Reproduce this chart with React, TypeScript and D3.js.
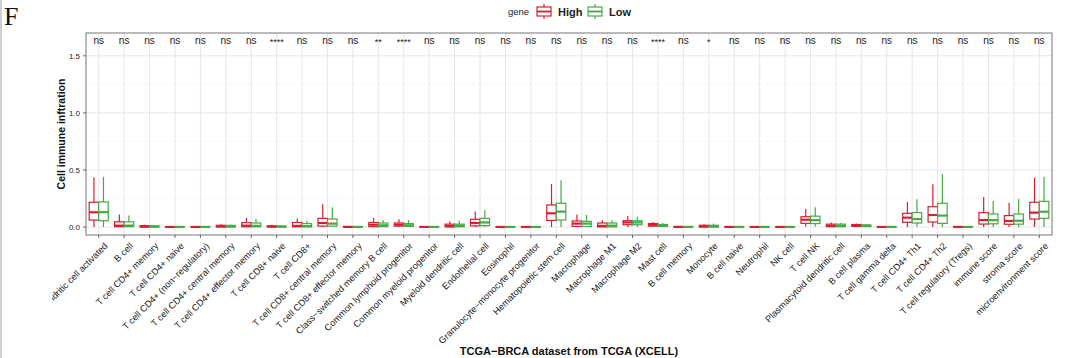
import * as d3 from "d3";

const categories = [
  "Dendritic cell activated", "B cell", "T cell CD4+ memory", "T cell CD4+ naive",
  "T cell CD4+ (non−regulatory)", "T cell CD4+ central memory", "T cell CD4+ effector memory",
  "T cell CD8+ naive", "T cell CD8+", "T cell CD8+ central memory", "T cell CD8+ effector memory",
  "Class−switched memory B cell", "Common lymphoid progenitor", "Common myeloid progenitor",
  "Myeloid dendritic cell", "Endothelial cell", "Eosinophil", "Granulocyte−monocyte progenitor",
  "Hematopoietic stem cell", "Macrophage", "Macrophage M1", "Macrophage M2", "Mast cell",
  "B cell memory", "Monocyte", "B cell naive", "Neutrophil", "NK cell", "T cell NK",
  "Plasmacytoid dendritic cell", "B cell plasma", "T cell gamma delta", "T cell CD4+ Th1",
  "T cell CD4+ Th2", "T cell regulatory (Tregs)", "immune score", "stroma score",
  "microenvironment score",
];

const sigLabels = [
  "ns", "ns", "ns", "ns", "ns", "ns", "ns", "****", "ns", "ns", "ns", "**", "****", "ns",
  "ns", "ns", "ns", "ns", "ns", "ns", "ns", "ns", "****", "ns", "*", "ns", "ns", "ns",
  "ns", "ns", "ns", "ns", "ns", "ns", "ns", "ns", "ns", "ns",
];

const groups = ["High", "Low"];
const yTicks = [0, 0.5, 1.0, 1.5];
const yMinorTicks = [0.25, 0.75, 1.25];

// High group: whisker ends, quartiles, median
const highMin = [
  0, 0, 0, 0, 0, 0, 0, 0, 0, 0, 0, 0, 0, 0, 0, 0, 0, 0, 0, 0, 0, 0, 0, 0, 0, 0, 0, 0,
  0.005, 0, 0, 0, 0, 0, 0, 0, 0, 0,
];
const highQ1 = [
  0.061, 0.003, 0.001, 0, 0, 0.001, 0.002, 0.001, 0.002, 0.008, 0, 0.003, 0.008, 0, 0.001,
  0.01, 0, 0, 0.058, 0.005, 0.001, 0.02, 0.008, 0, 0.001, 0, 0, 0, 0.032, 0.003, 0.005, 0,
  0.041, 0.044, 0, 0.026, 0.024, 0.07,
];
const highMed = [
  0.129, 0.012, 0.004, 0.0005, 0.0005, 0.005, 0.012, 0.004, 0.01, 0.035, 0.001, 0.02, 0.02,
  0.0005, 0.008, 0.035, 0.0005, 0.0005, 0.12, 0.03, 0.01, 0.04, 0.018, 0.001, 0.005, 0.0005,
  0.0005, 0.0005, 0.064, 0.01, 0.012, 0.0005, 0.082, 0.105, 0.0005, 0.061, 0.053, 0.126,
];
const highQ3 = [
  0.217, 0.046, 0.012, 0.002, 0.002, 0.015, 0.038, 0.01, 0.04, 0.076, 0.004, 0.04, 0.035,
  0.002, 0.025, 0.067, 0.002, 0.002, 0.193, 0.053, 0.035, 0.056, 0.03, 0.003, 0.015, 0.002,
  0.002, 0.002, 0.09, 0.025, 0.022, 0.002, 0.12, 0.178, 0.002, 0.126, 0.1, 0.217,
];
const highMax = [
  0.436, 0.11, 0.02, 0.004, 0.004, 0.025, 0.08, 0.02, 0.075, 0.2, 0.006, 0.08, 0.067, 0.004,
  0.05, 0.135, 0.004, 0.004, 0.377, 0.11, 0.06, 0.097, 0.045, 0.005, 0.025, 0.004, 0.004,
  0.004, 0.158, 0.04, 0.03, 0.004, 0.22, 0.375, 0.004, 0.263, 0.213, 0.433,
];

// Low group
const lowMin = [
  0, 0, 0, 0, 0, 0, 0, 0, 0, 0, 0, 0, 0, 0, 0, 0, 0, 0, 0, 0, 0, 0, 0, 0, 0, 0, 0, 0,
  0.005, 0, 0, 0, 0, 0, 0, 0, 0, 0,
];
const lowQ1 = [
  0.055, 0.003, 0.001, 0, 0, 0.001, 0.002, 0.001, 0.002, 0.008, 0, 0.003, 0.006, 0, 0.002,
  0.012, 0, 0, 0.061, 0.005, 0.001, 0.02, 0.005, 0, 0.001, 0, 0, 0, 0.03, 0.003, 0.004, 0,
  0.035, 0.032, 0, 0.028, 0.025, 0.076,
];
const lowMed = [
  0.13, 0.012, 0.003, 0.0005, 0.0005, 0.005, 0.01, 0.003, 0.008, 0.03, 0.001, 0.015, 0.015,
  0.0005, 0.01, 0.04, 0.0005, 0.0005, 0.135, 0.03, 0.012, 0.04, 0.012, 0.001, 0.005, 0.0005,
  0.0005, 0.0005, 0.06, 0.01, 0.01, 0.0005, 0.07, 0.1, 0.0005, 0.06, 0.055, 0.134,
];
const lowQ3 = [
  0.22, 0.045, 0.01, 0.002, 0.002, 0.014, 0.035, 0.008, 0.03, 0.07, 0.003, 0.035, 0.03,
  0.002, 0.025, 0.076, 0.002, 0.002, 0.208, 0.05, 0.035, 0.055, 0.022, 0.003, 0.015, 0.002,
  0.002, 0.002, 0.095, 0.025, 0.018, 0.002, 0.126, 0.208, 0.002, 0.114, 0.114, 0.225,
];
const lowMax = [
  0.44, 0.1, 0.018, 0.004, 0.004, 0.022, 0.07, 0.015, 0.055, 0.17, 0.005, 0.06, 0.06, 0.004,
  0.055, 0.15, 0.004, 0.004, 0.41, 0.105, 0.06, 0.09, 0.035, 0.005, 0.03, 0.004, 0.004,
  0.004, 0.173, 0.035, 0.025, 0.004, 0.243, 0.462, 0.004, 0.228, 0.245, 0.44,
];

const WIDTH = 1067;
const HEIGHT = 358;
const PANEL = { left: 86, right: 1052, top: 33, bottom: 235 };
const COLORS: Record<string, string> = { High: "#D42030", Low: "#47A845" };
const FONT = "'Liberation Sans', Arial, sans-serif";

type BoxStat = { min: number; q1: number; med: number; q3: number; max: number };

const App = () => {
  const x = d3
    .scaleBand<string>()
    .domain(categories)
    .range([PANEL.left, PANEL.right])
    .padding(0);
  const step = x.bandwidth();
  const xc = (c: string) => (x(c) as number) + step / 2;

  // dodge inside each category (box width 0.75 of step, split in two)
  const inner = d3
    .scaleBand<string>()
    .domain(groups)
    .range([-0.375 * step, 0.375 * step]);
  const boxW = inner.bandwidth();

  const y = d3.scaleLinear().domain([-0.07, 1.7]).range([PANEL.bottom, PANEL.top]);

  const stats: Record<string, BoxStat[]> = {
    High: categories.map((_, i) => ({
      min: highMin[i], q1: highQ1[i], med: highMed[i], q3: highQ3[i], max: highMax[i],
    })),
    Low: categories.map((_, i) => ({
      min: lowMin[i], q1: lowQ1[i], med: lowMed[i], q3: lowQ3[i], max: lowMax[i],
    })),
  };

  const boxes = categories.map((c, i) => (
    <g key={c}>
      {groups.map((g) => {
        const s = stats[g][i];
        const bx = xc(c) + (inner(g) as number);
        const cx = bx + boxW / 2;
        const col = COLORS[g];
        return (
          <g key={g}>
            <line x1={cx} x2={cx} y1={y(s.max)} y2={y(s.min)} stroke={col} strokeWidth={1.2} />
            <rect
              x={bx}
              y={y(s.q3)}
              width={boxW}
              height={Math.max(0, y(s.q1) - y(s.q3))}
              fill="#fff"
              stroke={col}
              strokeWidth={1.2}
            />
            <line x1={bx} x2={bx + boxW} y1={y(s.med)} y2={y(s.med)} stroke={col} strokeWidth={2.2} />
          </g>
        );
      })}
    </g>
  ));

  const legendKey = (kx: number, col: string) => (
    <g>
      <line x1={kx + 7} x2={kx + 7} y1={4} y2={19} stroke={col} strokeWidth={1.2} />
      <rect x={kx} y={7} width={14} height={9} fill="#fff" stroke={col} strokeWidth={1.2} />
      <line x1={kx} x2={kx + 14} y1={11.5} y2={11.5} stroke={col} strokeWidth={1.8} />
    </g>
  );

  return (
    <svg
      width={WIDTH}
      height={HEIGHT}
      style={{ position: "absolute", left: 0, top: 0, display: "block", background: "#fff" }}
    >
      <defs>
        <clipPath id="xlab-clip">
          <rect x={52} y={PANEL.bottom} width={WIDTH} height={HEIGHT} />
        </clipPath>
      </defs>
      <rect x={0} y={0} width={2} height={HEIGHT} fill="#cfcfcf" />
      <text x={4} y={25} fontFamily="'Liberation Serif', 'Times New Roman', serif" fontSize={26} fill="#111">
        F
      </text>

      {/* legend */}
      <g fontFamily={FONT}>
        <text x={508} y={15} fontSize={9.5} fill="#222">gene</text>
        {legendKey(537, COLORS.High)}
        <text x={558} y={15.5} fontSize={11} fontWeight={700} fill="#222">High</text>
        {legendKey(588, COLORS.Low)}
        <text x={609} y={15.5} fontSize={11} fontWeight={700} fill="#222">Low</text>
      </g>

      {/* panel grid */}
      <rect x={PANEL.left} y={PANEL.top} width={PANEL.right - PANEL.left} height={PANEL.bottom - PANEL.top} fill="#fff" />
      {yMinorTicks.map((t) => (
        <line key={t} x1={PANEL.left} x2={PANEL.right} y1={y(t)} y2={y(t)} stroke="#F2F2F2" strokeWidth={0.6} />
      ))}
      {yTicks.map((t) => (
        <line key={t} x1={PANEL.left} x2={PANEL.right} y1={y(t)} y2={y(t)} stroke="#E6E6E6" strokeWidth={1} />
      ))}
      {categories.map((c) => (
        <line key={c} x1={xc(c)} x2={xc(c)} y1={PANEL.top} y2={PANEL.bottom} stroke="#E6E6E6" strokeWidth={1} />
      ))}

      {boxes}

      {/* significance labels */}
      {categories.map((c, i) => (
        <text
          key={c}
          x={xc(c)}
          y={sigLabels[i] === "ns" ? 44 : 45}
          textAnchor="middle"
          fontFamily={FONT}
          fontSize={sigLabels[i] === "ns" ? 10 : 9}
          fill="#222"
        >
          {sigLabels[i]}
        </text>
      ))}

      <rect
        x={PANEL.left}
        y={PANEL.top}
        width={PANEL.right - PANEL.left}
        height={PANEL.bottom - PANEL.top}
        fill="none"
        stroke="#777"
        strokeWidth={1}
      />

      {/* y axis */}
      {yTicks.map((t) => (
        <g key={t}>
          <line x1={PANEL.left - 3} x2={PANEL.left} y1={y(t)} y2={y(t)} stroke="#444" strokeWidth={0.8} />
          <text x={PANEL.left - 6} y={y(t)} dy="0.35em" textAnchor="end" fontFamily={FONT} fontSize={8} fill="#222">
            {d3.format(".1f")(t)}
          </text>
        </g>
      ))}
      <text
        transform={`translate(65, ${(PANEL.top + PANEL.bottom) / 2}) rotate(-90)`}
        textAnchor="middle"
        fontFamily={FONT}
        fontSize={10.5}
        fontWeight={700}
        fill="#111"
      >
        Cell immune inftration
      </text>

      {/* x axis */}
      {categories.map((c) => (
        <line key={c} x1={xc(c)} x2={xc(c)} y1={PANEL.bottom} y2={PANEL.bottom + 3} stroke="#444" strokeWidth={0.8} />
      ))}
      <g clipPath="url(#xlab-clip)">
        {categories.map((c) => (
          <text
            key={c}
            transform={`translate(${xc(c) + 5}, ${PANEL.bottom + 7}) rotate(-45)`}
            textAnchor="end"
            dominantBaseline="hanging"
            fontFamily={FONT}
            fontSize={9.2}
            fill="#1a1a1a"
          >
            {c}
          </text>
        ))}
      </g>
      <text
        x={(PANEL.left + PANEL.right) / 2}
        y={355}
        textAnchor="middle"
        fontFamily={FONT}
        fontSize={11}
        fontWeight={700}
        fill="#111"
      >
        TCGA−BRCA dataset from TCGA (XCELL)
      </text>
    </svg>
  );
};

export default App;
